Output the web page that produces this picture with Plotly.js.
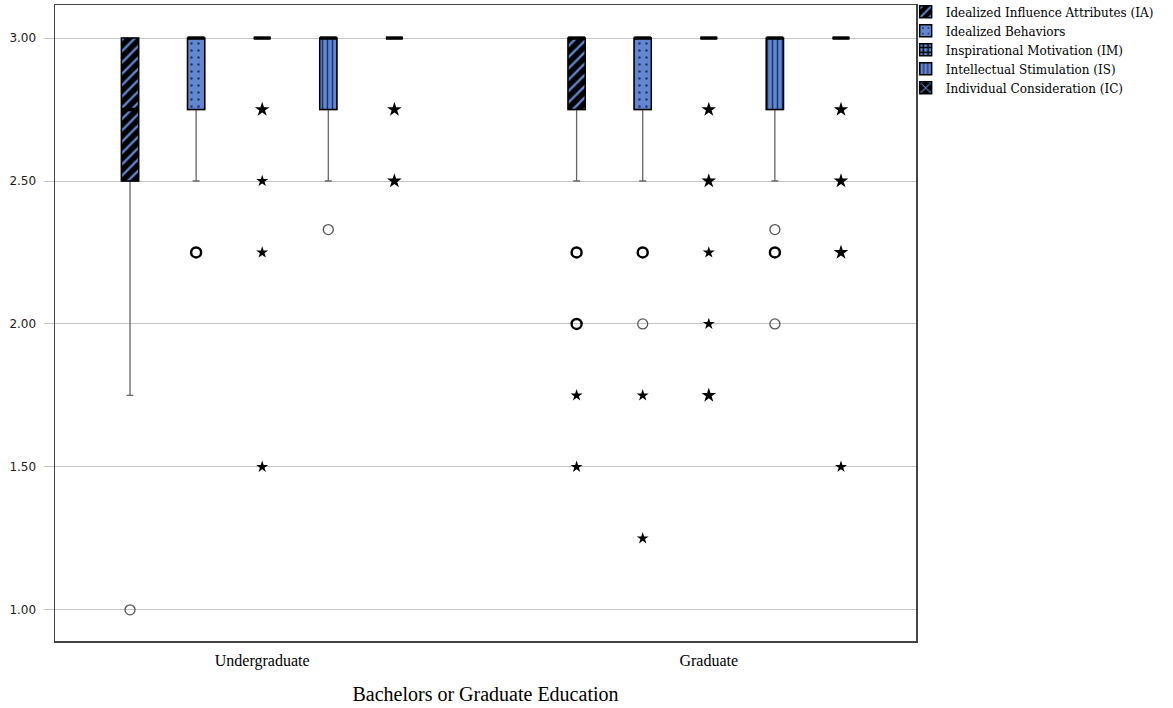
<!DOCTYPE html>
<html><head><meta charset="utf-8">
<script src="https://cdn.plot.ly/plotly-3.0.1.min.js"></script>
<style>html,body{margin:0;padding:0;background:#fff}#chart{width:1173px;height:708px}</style>
</head><body><div id="chart"></div>
<script>
// ---- data ----
const categories = ['Undergraduate', 'Graduate'];
const seriesNames = ['Idealized Influence Attributes (IA)', 'Idealized Behaviors', 'Inspirational Motivation (IM)', 'Intellectual Stimulation (IS)', 'Individual Consideration (IC)'];

// box statistics per series: [Undergraduate, Graduate]
const q1Values     = [[2.50, 2.75], [2.75, 2.75], [3.00, 3.00], [2.75, 2.75], [3.00, 3.00]];
const medianValues = [[2.75, 3.00], [3.00, 3.00], [3.00, 3.00], [3.00, 3.00], [3.00, 3.00]];
const q3Values     = [[3.00, 3.00], [3.00, 3.00], [3.00, 3.00], [3.00, 3.00], [3.00, 3.00]];
const lowerWhisker = [[1.75, 2.50], [2.50, 2.50], [3.00, 3.00], [2.50, 2.50], [3.00, 3.00]];
const upperWhisker = [[3.00, 3.00], [3.00, 3.00], [3.00, 3.00], [3.00, 3.00], [3.00, 3.00]];

// outliers: 'o' = outlier (circle), 'O' = several outliers (bold circle), '*' = extreme (star), 'S' = several extremes (bold star)
const U = 'Undergraduate', G = 'Graduate';
const outlierCats = [
  [U, G, G, G, G],
  [U, G, G, G, G],
  [U, U, U, U, G, G, G, G, G],
  [U, G, G, G],
  [U, U, G, G, G, G]
];
const outlierVals = [
  [1.00, 2.25, 2.00, 1.75, 1.50],
  [2.25, 2.25, 2.00, 1.75, 1.25],
  [2.75, 2.50, 2.25, 1.50, 2.75, 2.50, 2.25, 2.00, 1.75],
  [2.33, 2.33, 2.25, 2.00],
  [2.75, 2.50, 2.75, 2.50, 2.25, 1.50]
];
const outlierKinds = [
  ['o', 'O', 'O', '*', '*'],
  ['O', 'O', 'o', '*', '*'],
  ['S', '*', '*', '*', 'S', 'S', '*', '*', 'S'],
  ['o', 'o', 'O', 'o'],
  ['S', 'S', 'S', 'S', 'S', '*']
];

// ---- styles ----
const BLUE = '#6286d0';
const patterns = [
  {shape: '/', bgcolor: '#000000', fgcolor: BLUE, size: 8, solidity: 0.3},
  {shape: '.', bgcolor: BLUE, fgcolor: '#1d376b', size: 7, solidity: 0.1},
  {shape: '+', bgcolor: BLUE, fgcolor: '#000000', size: 6, solidity: 0.5},
  {shape: '|', bgcolor: BLUE, fgcolor: '#1a3366', size: 5, solidity: 0.3},
  {shape: 'x', bgcolor: '#000000', fgcolor: BLUE, size: 8, solidity: 0.3}
];
const kindStyle = {
  'o': {symbol: 'circle-open', size: 10, color: '#555555', lw: 1.3},
  'O': {symbol: 'circle-open', size: 10, color: '#000000', lw: 2.4},
  '*': {symbol: 'star', size: 9, color: '#000000', lw: 0},
  'S': {symbol: 'star', size: 11, color: '#000000', lw: 0}
};

const traces = [];
seriesNames.forEach((name, i) => {
  // whiskers (box trace underneath)
  traces.push({
    type: 'box', x: categories, xaxis: 'x', yaxis: 'y',
    q1: q1Values[i], median: medianValues[i], q3: q3Values[i],
    lowerfence: lowerWhisker[i], upperfence: upperWhisker[i],
    name: name, offsetgroup: 'g' + i, showlegend: false,
    fillcolor: 'rgba(0,0,0,0)', line: {color: '#666666', width: 1.3},
    whiskerwidth: 0.4, hoverinfo: 'skip'
  });
  // box body with pattern
  traces.push({
    type: 'bar', x: categories, xaxis: 'x2', yaxis: 'y',
    base: q1Values[i], y: q3Values[i].map((v, k) => v - q1Values[i][k]),
    name: name, offsetgroup: 'g' + i, legendgroup: 'g' + i,
    marker: {color: patterns[i].bgcolor, line: {color: '#000', width: 1.5},
             pattern: Object.assign({fillmode: 'replace'}, patterns[i])},
    hoverinfo: 'skip'
  });
});
seriesNames.forEach((name, i) => {
  traces.push({
    type: 'scatter', mode: 'markers', x: categories, y: medianValues[i], xaxis: 'x2', yaxis: 'y',
    offsetgroup: 'g' + i, showlegend: false, hoverinfo: 'skip',
    marker: {symbol: 'line-ew', size: 12, opacity: 1, line: {color: '#000', width: 3.5}}
  });
  const k = outlierKinds[i];
  traces.push({
    type: 'scatter', mode: 'markers', x: outlierCats[i], y: outlierVals[i], xaxis: 'x2', yaxis: 'y',
    offsetgroup: 'g' + i, showlegend: false, hoverinfo: 'skip',
    marker: {
      opacity: 1,
      symbol: k.map(s => kindStyle[s].symbol),
      size: k.map(s => kindStyle[s].size),
      color: k.map(s => kindStyle[s].color),
      line: {width: k.map(s => kindStyle[s].lw), color: k.map(s => kindStyle[s].color)}
    }
  });
});

const xRange = [-0.464, 1.464];
const layout = {
  width: 1173, height: 708,
  margin: {l: 55, r: 257, t: 5, b: 67, autoexpand: false},
  paper_bgcolor: '#fff', plot_bgcolor: '#fff',
  showlegend: true,
  barmode: 'group', bargap: 0.26, bargroupgap: 0.74,
  boxmode: 'group', boxgap: 0.26, boxgroupgap: 0.74,
  scattermode: 'group', scattergap: 0.26,
  xaxis: {
    type: 'category', categoryorder: 'array', categoryarray: categories, range: xRange,
    showline: true, mirror: true, linecolor: '#444', linewidth: 1.5,
    ticks: '', showgrid: false, zeroline: false,
    tickfont: {family: 'Liberation Serif', size: 16, color: '#000'},
    ticklabelstandoff: 4,
    title: {text: 'Bachelors or Graduate Education', font: {family: 'Liberation Serif', size: 20, color: '#000'}, standoff: 18}
  },
  xaxis2: {
    type: 'category', categoryorder: 'array', categoryarray: categories, range: xRange,
    overlaying: 'x', visible: false
  },
  yaxis: {
    range: [0.891, 3.1156], tickvals: [1, 1.5, 2, 2.5, 3], tickformat: '.2f',
    showgrid: true, gridcolor: '#c4c4c4', gridwidth: 1,
    ticks: 'outside', ticklen: 10, tickcolor: '#c4c4c4', tickwidth: 1,
    showline: true, mirror: true, linecolor: '#444', linewidth: 1.5, zeroline: false,
    tickfont: {family: 'DejaVu Sans', size: 12, color: '#222'},
    ticklabelstandoff: 5
  },
  legend: {
    x: 0.988, xanchor: 'left', y: 1.012, yanchor: 'top',
    font: {family: 'DejaVu Serif', size: 12, color: '#000'},
    bgcolor: 'rgba(0,0,0,0)', borderwidth: 0, traceorder: 'normal',
    itemwidth: 30, tracegroupgap: 0
  },
  hovermode: false
};
Plotly.newPlot('chart', traces, layout, {displayModeBar: false, staticPlot: true});
</script>
</body></html>
